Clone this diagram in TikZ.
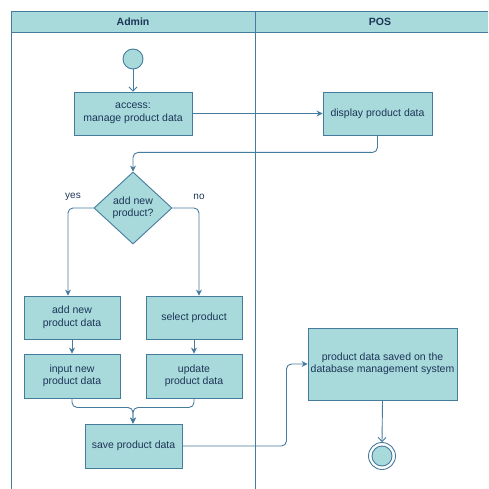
\documentclass[tikz,border=0pt]{standalone}
\usepackage{fontspec}
\setmainfont{Liberation Sans}
\usetikzlibrary{shapes.geometric,arrows.meta,calc}
\definecolor{fillc}{HTML}{A8DADC}
\definecolor{linec}{HTML}{457B9D}
\definecolor{textc}{HTML}{1D3557}
\tikzset{
  box/.style={draw=linec, fill=fillc, line width=0.9pt, text=textc, align=center, inner sep=0pt, font=\fontsize{10.5}{12.5}\selectfont},
  lane/.style={draw=linec, line width=0.9pt},
  conn/.style={draw=linec, line width=0.9pt, rounded corners=5pt, -{Stealth[length=6pt,width=6pt,inset=2pt]}},
  openconn/.style={draw=linec, line width=0.9pt, -{Straight Barb[length=4pt,width=8pt]}},
  lbl/.style={text=textc, font=\fontsize{10}{12}\selectfont, inner sep=0pt},
  hdr/.style={text=textc, font=\bfseries\fontsize{10.5}{12}\selectfont, inner sep=0pt}
}
\begin{document}
\begin{tikzpicture}[x=1pt,y=-1pt]
\useasboundingbox (0,0) rectangle (488,489);
\begin{scope}
\clip (0,0) rectangle (488,489);
% swimlane
\fill[fillc] (11,11) rectangle (520,32);
\draw[lane] (11,495) -- (11,11) -- (520,11);
\draw[lane] (11,32) -- (520,32);
\draw[lane] (255,11) -- (255,495);
\end{scope}
\node[hdr] (hadmin) at (133,22) {Admin};
\node[hdr] (hpos) at (380,22) {POS};
% nodes
\node[draw=linec, fill=fillc, line width=0.9pt, circle, minimum size=20pt, inner sep=0pt] (start) at (133,59) {};
\node[box, minimum width=118pt, minimum height=43pt] (access) at (133,113.5) {access:\\manage product data};
\node[box, minimum width=109pt, minimum height=43pt] (display) at (377.5,113.5) {display product data};
\node[box, diamond, minimum width=78pt, minimum height=72pt, aspect=1.08] (dia) at (133,208) {add new\\product?};
\node[box, minimum width=96pt, minimum height=43pt] (addnew) at (72,317.5) {add new\\product data};
\node[box, minimum width=96pt, minimum height=43pt] (select) at (194,317.5) {select product};
\node[box, minimum width=96pt, minimum height=44pt] (input) at (72,376) {input new\\product data};
\node[box, minimum width=96pt, minimum height=44pt] (update) at (194,376) {update\\product data};
\node[box, minimum width=97pt, minimum height=44pt] (save) at (133.5,446) {save product data};
\node[box, minimum width=149pt, minimum height=72pt] (db) at (382.5,364) {product data saved on the\\database management system};
\node[draw=linec, line width=0.9pt, circle, minimum size=27pt, inner sep=0pt] (end) at (382,456) {};
\node[draw=linec, fill=fillc, line width=0.9pt, circle, minimum size=20pt, inner sep=0pt] (endin) at (end.center) {};
% labels
\node[lbl] (yes) at (73,197) {yes};
\node[lbl] (no) at (199,197) {no};
% connectors
\draw[openconn] (start) -- (access);
\draw[conn] (access.east) -- (display.west);
\draw[conn] (display.south) -- ++(0,17) -| (dia.north);
\draw[conn] (dia.west) -| ([xshift=-4pt]addnew.north);
\draw[conn] (dia.east) -| ([xshift=5pt]select.north);
\draw[conn] (addnew) -- (input);
\draw[conn] (select) -- (update);
\draw[conn] (input.south) -- ++(0,9) -| ([xshift=-0.5pt]save.north);
\draw[conn] (update.south) -- ++(0,9) -| ([xshift=-0.5pt]save.north);
\draw[conn] (save.east) -- ++(104,0) |- (db.west);
\draw[openconn] (db.south) -- (end.north);
\end{tikzpicture}
\end{document}
